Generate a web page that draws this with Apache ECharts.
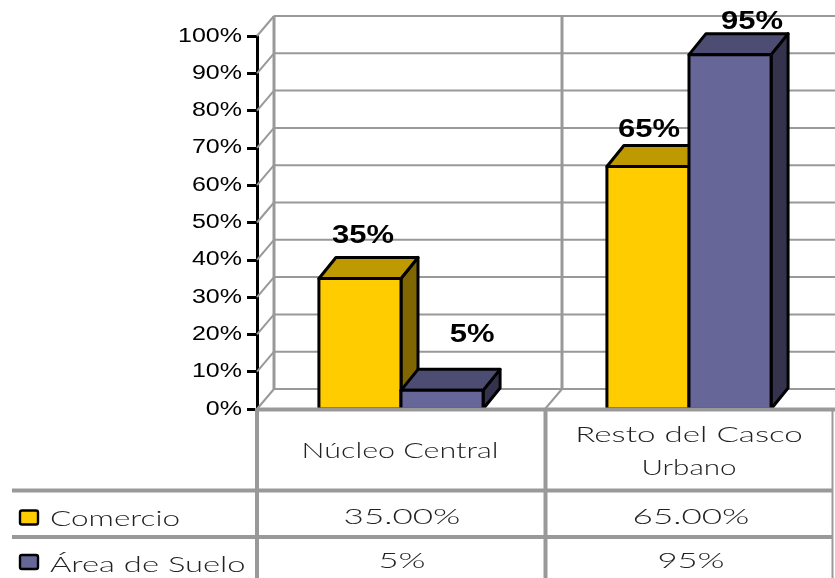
<!DOCTYPE html>
<html>
<head>
<meta charset="utf-8">
<style>html,body{margin:0;padding:0;background:#fff}#c{width:835px;height:578px}</style>
<script src="https://cdn.jsdelivr.net/npm/echarts@6/dist/echarts.min.js"></script>
</head>
<body>
<div id="c"></div>
<script>
const categories = ['Núcleo Central', 'Resto del Casco\nUrbano'];
const comercio = [35, 65];
const areaSuelo = [5, 95];
const comercioTable = ['35.00%', '65.00%'];
const areaTable = ['5%', '95%'];
const yTicks = [0,10,20,30,40,50,60,70,80,90,100];

const WALL = {dx:17, dy:-20}, BAR = {dx:17, dy:-21};
const GRAY = '#999999';
const labelNudge = {
  'Comercio': [[3,-42],[1,-36]],
  'Área de Suelo': [[30,-55],[22,-33]]
};
const chart = echarts.init(document.getElementById('c'), null, {renderer:'canvas'});

function barSeries(name, values, colors, side) {
  return {
    type:'custom', name, z:3, clip:false,
    encode:{x:0,y:1},
    data: values.map((v,i)=>[i,v]),
    renderItem(params, api){
      const i = api.value(0), v = api.value(1);
      const band = api.size([1,0])[0];
      const w = band*0.285;
      const c = api.coord([i, v]);
      const base = api.coord([i, 0]);
      const x0 = side<0 ? c[0]-w : c[0], x1 = x0+w, t=c[1], b=base[1];
      const d = BAR;
      const st = {stroke:'#000', lineWidth:3, lineJoin:'round'};
      const nudge = labelNudge[name][i];
      const cx = (x0+x1)/2 + nudge[0];
      return {type:'group', children:[
        {type:'polygon', shape:{points:[[x1,t],[x1+d.dx,t+d.dy],[x1+d.dx,b+d.dy],[x1,b]]}, style:{fill:colors[2],...st}},
        {type:'polygon', shape:{points:[[x0,t],[x0+d.dx,t+d.dy],[x1+d.dx,t+d.dy],[x1,t]]}, style:{fill:colors[1],...st}},
        {type:'rect', shape:{x:x0,y:t,width:w,height:b-t}, style:{fill:colors[0],...st}},
        {type:'text', x:cx, y:t+nudge[1], scaleX:1.24, style:{text:v+'%', fill:'#000', font:'bold 25px "Liberation Sans"', textAlign:'center', textVerticalAlign:'middle'}}
      ]};
    }
  };
}

function tableGraphic(){
  const els = [];
  const line = (x1,y1,x2,y2,w,col)=>els.push({type:'line', z:10, shape:{x1,y1,x2,y2}, style:{stroke:col||GRAY, lineWidth:w}});
  line(257,409.5,835,409.5,4);
  line(12,490.5,833,490.5,4);
  line(12,537,833,537,4);
  line(257,408,257,578,4);
  line(545.5,408,545.5,578,4);
  line(832.5,408,832.5,578,2);
  const txt = (s,x,y,align,sc)=>els.push({type:'text', z:11, x, y, scaleX:sc, style:{text:s, fill:'#222', font:'300 21px Lato', textAlign:align||'center', textVerticalAlign:'middle'}});
  txt(categories[0],400,451,'center',1.45);
  const parts = categories[1].split('\n');
  txt(parts[0],689,435,'center',1.58);
  txt(parts[1],689,468,'center',1.41);
  txt(comercioTable[0],402,517,'center',1.67); txt(comercioTable[1],691,517,'center',1.67);
  txt(areaTable[0],402,561,'center',1.65); txt(areaTable[1],691,561,'center',1.65);
  txt('Comercio',50,519,'left',1.5);
  txt('Área de Suelo',50,565,'left',1.56);
  els.push({type:'rect', z:11, shape:{x:20,y:510.5,width:18,height:14,r:2}, style:{fill:'#FFCC00',stroke:'#000',lineWidth:2.4}});
  els.push({type:'rect', z:11, shape:{x:20,y:555,width:18,height:14,r:2}, style:{fill:'#666699',stroke:'#000',lineWidth:2.4}});
  return els;
}

chart.setOption({
  animation:false,
  backgroundColor:'#fff',
  grid:{left:257, top:36, width:576, height:373, containLabel:false},
  xAxis:{type:'category', data:categories, axisLine:{show:false}, axisTick:{show:false}, axisLabel:{show:false}, splitLine:{show:false}},
  yAxis:{type:'value', min:0, max:100, interval:10,
    axisLine:{show:true, onZero:false, lineStyle:{color:'#000', width:3}},
    axisTick:{show:true, length:10, lineStyle:{color:'#000', width:3}},
    axisLabel:{show:false}, splitLine:{show:false}},
  graphic:{elements:tableGraphic()},
  series:[
    { type:'custom', name:'walls', z:1, clip:false, silent:true, encode:{y:1},
      data: yTicks.map(t=>[0,t]),
      renderItem(params, api){
        const t = api.value(1);
        const p = api.coord([0,t]);
        const g = params.coordSys;
        const xl = g.x, yb = p[1];
        const kids = [
          {type:'line', shape:{x1:xl,y1:yb,x2:xl+WALL.dx,y2:yb+WALL.dy}, style:{stroke:GRAY,lineWidth:2}},
          {type:'line', shape:{x1:xl+WALL.dx,y1:yb+WALL.dy,x2:835,y2:yb+WALL.dy}, style:{stroke:GRAY,lineWidth:2}}
        ];
        if(t===0){
          const mid = g.x+g.width/2;
          const top = g.y+WALL.dy;
          kids.push({type:'line', shape:{x1:xl+WALL.dx,y1:yb+WALL.dy,x2:xl+WALL.dx,y2:top}, style:{stroke:GRAY,lineWidth:3}});
          kids.push({type:'line', shape:{x1:mid+WALL.dx,y1:yb+WALL.dy,x2:mid+WALL.dx,y2:top}, style:{stroke:GRAY,lineWidth:3}});
          kids.push({type:'line', shape:{x1:mid,y1:yb,x2:mid+WALL.dx,y2:yb+WALL.dy}, style:{stroke:GRAY,lineWidth:2}});
        }
        return {type:'group', children:kids};
      }
    },
    { type:'custom', name:'yLabels', z:4, clip:false, silent:true, encode:{y:1},
      data: yTicks.map(t=>[0,t]),
      renderItem(params, api){
        const p = api.coord([0,api.value(1)]);
        return {type:'text', x:params.coordSys.x-15, y:p[1], scaleX:1.25,
          style:{text:api.value(1)+'%', fill:'#000', font:'20px "Liberation Sans"', textAlign:'right', textVerticalAlign:'middle'}};
      }
    },
    barSeries('Comercio', comercio, ['#FFCC00','#BF9900','#7F6600'], -1),
    barSeries('Área de Suelo', areaSuelo, ['#666699','#4D4D73','#33334D'], 1)
  ]
});
</script>
</body>
</html>
